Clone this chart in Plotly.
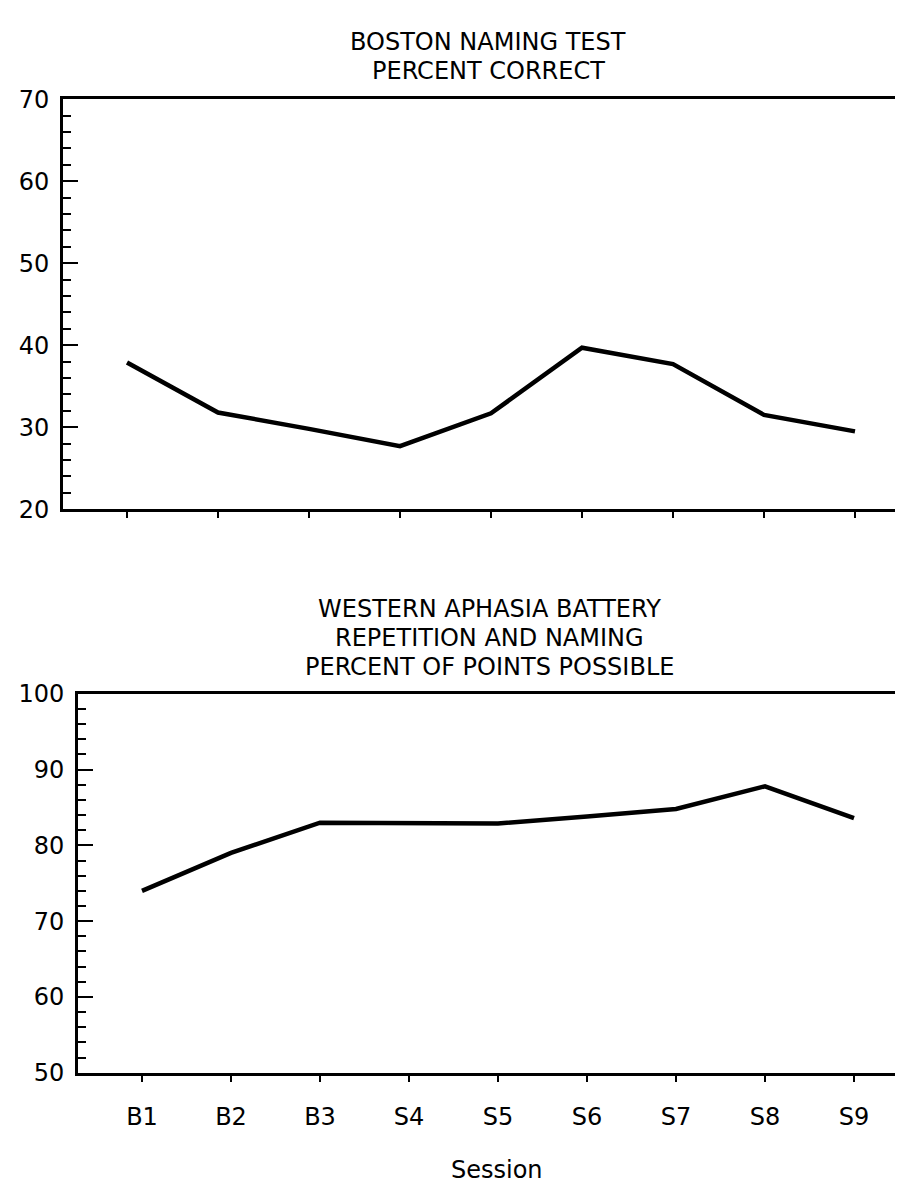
import plotly.graph_objects as go

# ---- data ----
sessions = ["B1", "B2", "B3", "S4", "S5", "S6", "S7", "S8", "S9"]
boston_pct = [37.9, 31.8, 29.8, 27.7, 31.7, 39.7, 37.7, 31.5, 29.5]
wab_pct = [74.0, 79.0, 83.0, 83.0, 82.9, 83.8, 84.8, 87.8, 83.6]

top_title = ["BOSTON NAMING TEST", "PERCENT CORRECT"]
bottom_title = ["WESTERN APHASIA BATTERY", "REPETITION AND NAMING", "PERCENT OF POINTS POSSIBLE"]
x_title = "Session"

W, H = 903, 1192
FONT = "DejaVu Sans"
WEIGHT = 400
idx = list(range(len(sessions)))


def px_x(p):
    return p / W


def px_y(p):
    return 1 - p / H


def tfont(size=24):
    return dict(family=FONT, size=size, color="black", weight=WEIGHT)


fig = go.Figure()
fig.add_trace(go.Scatter(x=idx, y=boston_pct, mode="lines",
                         line=dict(color="black", width=4.5),
                         xaxis="x", yaxis="y", showlegend=False))
fig.add_trace(go.Scatter(x=idx, y=wab_pct, mode="lines",
                         line=dict(color="black", width=4.5),
                         xaxis="x2", yaxis="y2", showlegend=False))

common_y = dict(showgrid=False, zeroline=False, showline=True, linecolor="black",
                linewidth=3, ticks="inside", ticklen=15, tickwidth=2, tickcolor="black",
                dtick=10, tickfont=tfont(24), ticklabelstandoff=6,
                minor=dict(ticks="inside", ticklen=8, tickwidth=2, tickcolor="black",
                           dtick=2, showgrid=False))
common_x = dict(showgrid=False, zeroline=False, showline=True, linecolor="black",
                linewidth=3, mirror=True, ticks="outside", ticklen=6, tickwidth=2,
                tickcolor="black", tickmode="array", tickvals=idx)

# pixel geometry of the two panels
top_left, top_sp, top_b1 = 55, 91, 119
bot_left, bot_sp, bot_b1 = 70, 89, 134

fig.update_layout(
    width=W, height=H,
    margin=dict(l=0, r=0, t=0, b=0),
    paper_bgcolor="white", plot_bgcolor="white",
    xaxis=dict(**common_x, domain=[px_x(top_left), 1.0], anchor="y",
               range=[(top_left - top_b1) / top_sp, (W - top_b1) / top_sp],
               ticktext=[""] * len(idx), showticklabels=False),
    yaxis=dict(**common_y, domain=[px_y(499), px_y(79)], anchor="x", range=[20, 70]),
    xaxis2=dict(**common_x, domain=[px_x(bot_left), 1.0], anchor="y2",
                range=[(bot_left - bot_b1) / bot_sp, (W - bot_b1) / bot_sp],
                ticktext=sessions, showticklabels=True, ticklabelstandoff=14,
                tickfont=tfont(24)),
    yaxis2=dict(**common_y, domain=[px_y(1076), px_y(688)], anchor="x2", range=[50, 100]),
)

annotations = []
for text, yc in zip(top_title, [20, 50]):
    annotations.append(dict(text=text, x=px_x(480), y=px_y(yc), xref="paper", yref="paper",
                            xanchor="center", yanchor="middle", showarrow=False,
                            font=tfont(24)))
for text, yc in zip(bottom_title, [601, 631, 661]):
    annotations.append(dict(text=text, x=px_x(481), y=px_y(yc), xref="paper", yref="paper",
                            xanchor="center", yanchor="middle", showarrow=False,
                            font=tfont(24)))
annotations.append(dict(text=x_title, x=px_x(489), y=px_y(1176), xref="paper", yref="paper",
                        xanchor="center", yanchor="middle", showarrow=False,
                        font=tfont(24)))
fig.update_layout(annotations=annotations)

fig.write_html("out.html")
